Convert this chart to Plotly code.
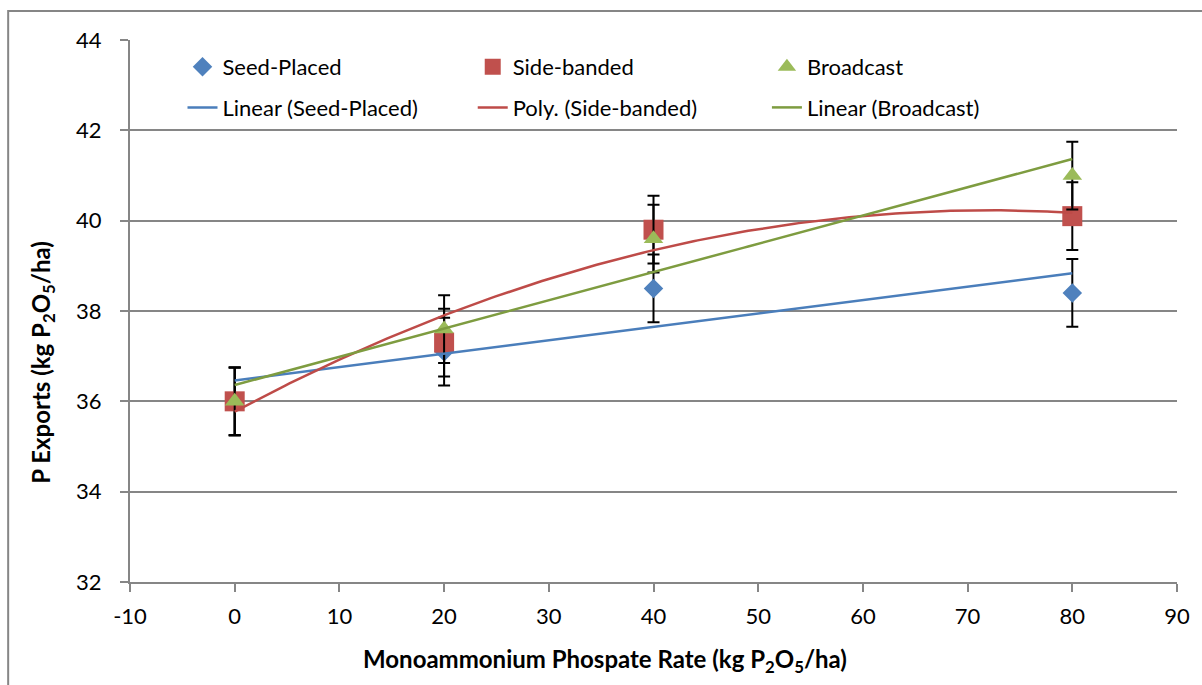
import numpy as np
import plotly.graph_objects as go

rates = [0, 20, 40, 80]
seed_placed = [36.0, 37.1, 38.5, 38.4]
side_banded = [36.0, 37.3, 39.8, 40.1]
broadcast = [36.0, 37.6, 39.6, 41.0]
err = [0.75, 0.75, 0.75, 0.75]

series_names = ["Seed-Placed", "Side-banded", "Broadcast"]
trend_names = ["Linear (Seed-Placed)", "Poly. (Side-banded)", "Linear (Broadcast)"]
trend_orders = [1, 2, 1]
colors = ["#4F81BD", "#C0504D", "#9BBB59"]
trend_colors = ["#4A7EBB", "#BE4B48", "#7E9C40"]
symbols = ["diamond", "square", "triangle-up"]
sizes = [15, 20, 17]

x_ticks = list(range(-10, 91, 10))
y_ticks = list(range(32, 45, 2))

FONT = "Lato"
FS_TICK = 22
FS_LEG = 22
FS_TITLE = 24

fig = go.Figure()
data = [seed_placed, side_banded, broadcast]
legends = ["legend", "legend2", "legend3"]

for i, ys in enumerate(data):
    fig.add_trace(go.Scatter(
        x=rates, y=ys, mode="markers", name=series_names[i],
        marker=dict(symbol=symbols[i], size=sizes[i], color=colors[i], line=dict(width=0)),
        error_y=dict(type="data", array=err, visible=True, color="black", thickness=2, width=6),
        legend=legends[i], legendrank=1, legendgroup=f"m{i}",
    ))

xs_dense = np.linspace(min(rates), max(rates), 200)
for i, ys in enumerate(data):
    coef = np.polyfit(rates, ys, trend_orders[i])
    fig.add_trace(go.Scatter(
        x=xs_dense, y=np.polyval(coef, xs_dense), mode="lines", name=trend_names[i],
        line=dict(color=trend_colors[i], width=2.5),
        legend=legends[i], legendrank=2, legendgroup=f"t{i}",
    ))

# plot area in pixels: left 130, right 1187, top 40, bottom 582
L, R, T, B = 130, 1187, 40, 582
W, H = R - L, B - T
def px(xp):
    return (xp - L) / W
def py(yp):
    return 1 - (yp - T) / H

leg_common = dict(
    orientation="v", bgcolor="rgba(0,0,0,0)", borderwidth=0,
    font=dict(family=FONT, size=FS_LEG, color="black"),
    tracegroupgap=9, yanchor="top", xanchor="left", traceorder="grouped",
    groupclick="toggleitem",
)
leg_text_x = [225, 518, 815]
layout_legs = {}
for i, lg in enumerate(legends):
    d = dict(leg_common)
    d.update(x=px(leg_text_x[i] - 42), y=py(46))
    layout_legs[lg] = d

fig.update_layout(
    width=1202, height=685,
    margin=dict(l=L, r=1202 - R, t=T, b=685 - B),
    paper_bgcolor="white", plot_bgcolor="white",
    font=dict(family=FONT, size=FS_TICK, color="black"),
    showlegend=True,
    xaxis=dict(
        range=[-10, 90], tickvals=x_ticks, ticktext=[str(v) for v in x_ticks],
        showgrid=False, zeroline=False, showline=True, linecolor="#868686", linewidth=2,
        ticks="outside", ticklen=8, tickwidth=2, tickcolor="#868686",
        tickfont=dict(family=FONT, size=FS_TICK, color="black"), ticklabelstandoff=6,
    ),
    yaxis=dict(
        range=[32, 44], tickvals=y_ticks, ticktext=[str(v) for v in y_ticks],
        showgrid=True, gridcolor="#868686", gridwidth=1.5, zeroline=False,
        showline=True, linecolor="#868686", linewidth=2,
        ticks="outside", ticklen=8, tickwidth=2, tickcolor="#868686",
        tickfont=dict(family=FONT, size=FS_TICK, color="black"), ticklabelstandoff=14,
    ),
    annotations=[
        dict(text="Monoammonium Phospate Rate (kg P<sub>2</sub>O<sub>5</sub>/ha)",
             xref="paper", yref="paper", x=px(610), y=py(660), showarrow=False,
             xanchor="center", yanchor="middle",
             font=dict(family=FONT, size=FS_TITLE, color="black", weight="bold")),
        dict(text="P Exports (kg P<sub>2</sub>O<sub>5</sub>/ha)",
             xref="paper", yref="paper", x=px(42), y=py(362), showarrow=False,
             xanchor="center", yanchor="middle", textangle=-90,
             font=dict(family=FONT, size=FS_TITLE, color="black", weight="bold")),
    ],
    shapes=[
        dict(type="rect", xref="paper", yref="paper",
             x0=px(7), x1=px(1230), y0=py(720), y1=py(11),
             line=dict(color="#868686", width=2), fillcolor="rgba(0,0,0,0)", layer="below"),
    ],
    **layout_legs,
)

fig.write_html("out.html")
